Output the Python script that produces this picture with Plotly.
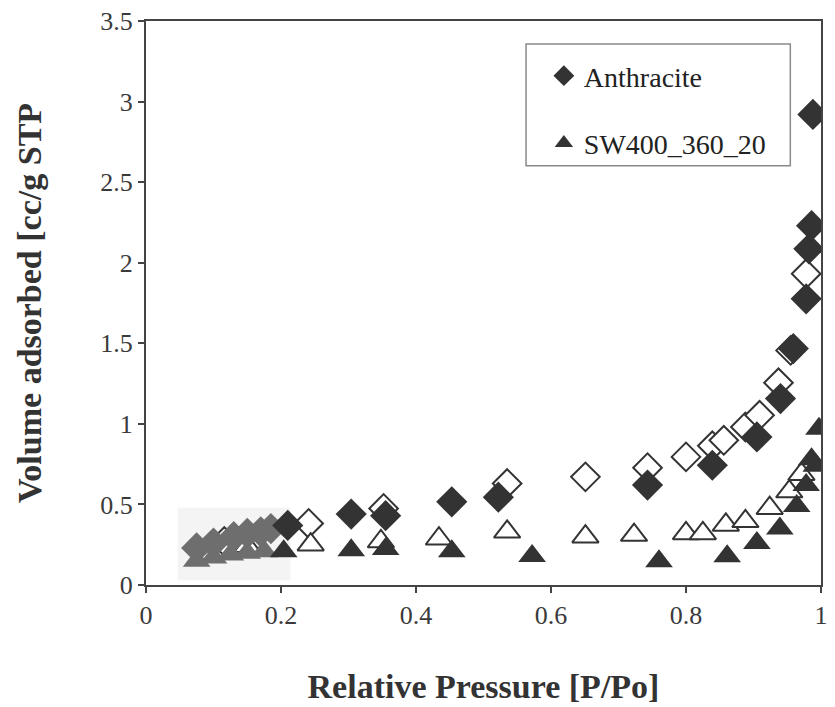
import plotly.graph_objects as go

# ---- data ----
anth_ads_x = [0.075, 0.10, 0.13, 0.15, 0.17, 0.185, 0.21, 0.304, 0.355, 0.453, 0.522,
              0.743, 0.839, 0.905, 0.940, 0.959, 0.978, 0.982, 0.986, 0.988]
anth_ads_y = [0.23, 0.26, 0.30, 0.32, 0.33, 0.35, 0.37, 0.44, 0.43, 0.516, 0.545,
              0.62, 0.743, 0.919, 1.157, 1.467, 1.776, 2.086, 2.23, 2.92]

anth_des_x = [0.116, 0.241, 0.352, 0.535, 0.651, 0.743, 0.800, 0.839, 0.856, 0.888,
              0.909, 0.937, 0.955, 0.978]
anth_des_y = [0.27, 0.382, 0.475, 0.630, 0.671, 0.728, 0.795, 0.864, 0.898, 0.981,
              1.053, 1.255, 1.456, 1.931]

sw_ads_x = [0.075, 0.10, 0.125, 0.15, 0.175, 0.204, 0.304, 0.355, 0.453, 0.572, 0.760,
            0.861, 0.905, 0.939, 0.964, 0.978, 0.986, 0.993, 0.997]
sw_ads_y = [0.15, 0.17, 0.19, 0.20, 0.21, 0.209, 0.215, 0.223, 0.209, 0.18, 0.147,
            0.178, 0.26, 0.35, 0.49, 0.62, 0.78, 0.74, 0.97]

sw_des_x = [0.15, 0.244, 0.348, 0.434, 0.535, 0.651, 0.723, 0.800, 0.825, 0.859, 0.888,
            0.924, 0.953, 0.971]
sw_des_y = [0.24, 0.25, 0.27, 0.287, 0.33, 0.30, 0.31, 0.32, 0.32, 0.373, 0.395,
            0.477, 0.58, 0.688]

series_names = ["Anthracite", "SW400_360_20"]
x_ticks = [0, 0.2, 0.4, 0.6, 0.8, 1]
x_tick_text = ["0", "0.2", "0.4", "0.6", "0.8", "1"]
y_ticks = [0, 0.5, 1, 1.5, 2, 2.5, 3, 3.5]
y_tick_text = ["0", "0.5", "1", "1.5", "2", "2.5", "3", "3.5"]

# ---- style ----
DARK = "#333333"
GRAY = "#6e6e6e"
FONT = "Liberation Serif"
CUT = 0.2   # points below this pressure sit in the greyish scan patch
DSIZE, TSIZE = 24, 24


def split(xs, ys):
    lo = [(x, y) for x, y in zip(xs, ys) if x < CUT]
    hi = [(x, y) for x, y in zip(xs, ys) if x >= CUT]
    return ([p[0] for p in lo], [p[1] for p in lo]), ([p[0] for p in hi], [p[1] for p in hi])


fig = go.Figure()

# open (desorption) markers drawn first
fig.add_trace(go.Scatter(
    x=anth_des_x, y=anth_des_y, mode="markers", showlegend=False,
    marker=dict(symbol="diamond", size=DSIZE - 2, color="white",
                line=dict(color=DARK, width=2))))
fig.add_trace(go.Scatter(
    x=sw_des_x, y=sw_des_y, mode="markers", showlegend=False,
    marker=dict(symbol="triangle-up", size=TSIZE - 1, color="white",
                line=dict(color=DARK, width=2))))

# filled (adsorption) markers on top
(a_lo, a_hi) = split(anth_ads_x, anth_ads_y)
(s_lo, s_hi) = split(sw_ads_x, sw_ads_y)

fig.add_trace(go.Scatter(
    x=a_lo[0], y=a_lo[1], mode="markers", showlegend=False, legendgroup="a",
    marker=dict(symbol="diamond", size=DSIZE, color=GRAY, line=dict(width=0))))
fig.add_trace(go.Scatter(
    x=s_lo[0], y=s_lo[1], mode="markers", showlegend=False, legendgroup="b",
    marker=dict(symbol="triangle-up", size=TSIZE, color=GRAY, line=dict(width=0))))
fig.add_trace(go.Scatter(
    x=a_hi[0], y=a_hi[1], mode="markers", name=series_names[0], legendgroup="a",
    marker=dict(symbol="diamond", size=DSIZE, color=DARK, line=dict(width=0))))
fig.add_trace(go.Scatter(
    x=s_hi[0], y=s_hi[1], mode="markers", name=series_names[1], legendgroup="b",
    marker=dict(symbol="triangle-up", size=TSIZE, color=DARK, line=dict(width=0))))

L, R, T, B = 146, 7, 20, 122
W, H = 835, 707
pw, ph = W - L - R, H - T - B


def px_x(p):
    return (p - L) / pw


def px_y(p):
    return (H - B - p) / ph


fig.update_layout(
    width=W, height=H,
    margin=dict(l=L, r=R, t=T, b=B),
    paper_bgcolor="white", plot_bgcolor="white",
    font=dict(family=FONT, color=DARK, size=20),
    showlegend=True,
    legend=dict(
        x=px_x(548), y=px_y(50), xanchor="left", yanchor="top",
        bgcolor="rgba(0,0,0,0)", borderwidth=0,
        font=dict(family=FONT, size=28, color="#222222"),
        traceorder="grouped", tracegroupgap=28,
    ),
    xaxis=dict(
        range=[0, 1], tickvals=x_ticks, ticktext=x_tick_text,
        showgrid=False, zeroline=False,
        showline=True, linecolor="#444444", linewidth=2, mirror=True,
        ticks="outside", ticklen=6, tickcolor="#444444", tickwidth=1.5,
        tickfont=dict(family=FONT, size=26, color="#3a3a3a"),
        title=dict(text="<b>Relative Pressure [P/Po]</b>",
                   font=dict(family=FONT, size=34, color="#333333"),
                   standoff=45),
    ),
    yaxis=dict(
        range=[0, 3.5], tickvals=y_ticks, ticktext=y_tick_text,
        showgrid=False, zeroline=False,
        showline=True, linecolor="#444444", linewidth=2, mirror=True,
        ticks="outside", ticklen=6, tickcolor="#444444", tickwidth=1.5,
        tickfont=dict(family=FONT, size=26, color="#3a3a3a"),
        title=dict(text="<b>Volume adsorbed [cc/g STP</b>",
                   font=dict(family=FONT, size=34, color="#333333"),
                   standoff=48),
    ),
    shapes=[
        # faint grey scan patch behind the low-pressure cluster
        dict(type="rect", xref="x", yref="y", x0=0.047, x1=0.214, y0=0.03, y1=0.48,
             fillcolor="#f4f4f4", line=dict(width=0), layer="below"),
        # legend frame
        dict(type="rect", xref="paper", yref="paper",
             x0=px_x(530), x1=px_x(797), y0=px_y(165), y1=px_y(43),
             fillcolor="white", line=dict(color="#8a8a8a", width=1.5), layer="below"),
    ],
)

fig.write_html("out.html")
